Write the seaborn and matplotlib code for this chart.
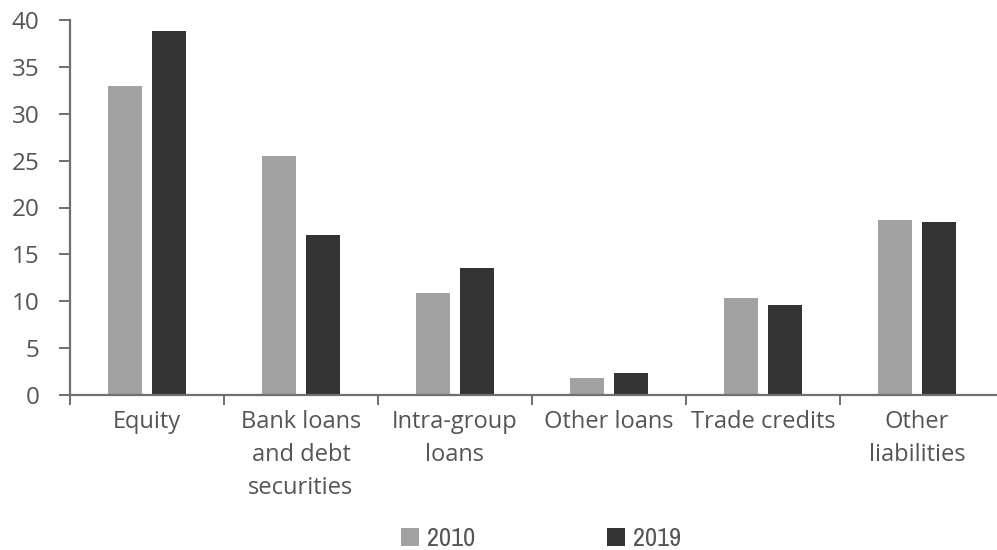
import matplotlib
matplotlib.use("Agg")
import matplotlib.pyplot as plt
from matplotlib.patches import Patch
from matplotlib.font_manager import FontProperties, fontManager
from matplotlib.ticker import FixedLocator
import pandas as pd
import seaborn as sns

categories = ["Equity", "Bank loans\nand debt\nsecurities", "Intra-group\nloans",
              "Other loans", "Trade credits", "Other\nliabilities"]
years = ["2010", "2019"]
values_2010 = [33.0, 25.5, 10.9, 1.8, 10.4, 18.7]
values_2019 = [38.8, 17.1, 13.5, 2.3, 9.6, 18.5]
y_ticks = [0, 5, 10, 15, 20, 25, 30, 35, 40]

colors = {"2010": "#a2a2a2", "2019": "#333333"}
text_color = "#555555"
axis_color = "#707070"

sns.set_theme(style="white")
plt.rcParams["font.family"] = ["Open Sans", "DejaVu Sans"]


def narrow_font(size):
    """Pick a condensed/narrow sans face if one is installed."""
    regular = [f for f in fontManager.ttflist
               if f.style == "normal" and f.weight in (400, "normal", "regular")]
    for f in regular:
        if "Narrow" in f.name:
            return FontProperties(fname=f.fname, size=size)
    for f in regular:
        if "condensed" in str(f.stretch).lower() or "Condensed" in f.fname:
            if "Bold" not in f.fname and "Oblique" not in f.fname:
                return FontProperties(fname=f.fname, size=size)
    return FontProperties(family="DejaVu Sans", size=size)


df = pd.DataFrame({
    "category": categories * 2,
    "year": [years[0]] * len(categories) + [years[1]] * len(categories),
    "value": values_2010 + values_2019,
})

fig = plt.figure(figsize=(9.97, 5.5), dpi=100)
ax = fig.add_axes([70 / 997, 1 - 395 / 550, 927 / 997, 375 / 550])

sns.barplot(data=df, x="category", y="value", hue="year", order=categories,
            hue_order=years, palette=colors, width=0.57, gap=0.23,
            saturation=1, legend=False, ax=ax, linewidth=0)

ax.set_xlim(-0.5, len(categories) - 0.48)
ax.set_ylim(0, 40)
ax.set_yticks(y_ticks)
ax.set_xlabel("")
ax.set_ylabel("")

for side in ("top", "right"):
    ax.spines[side].set_visible(False)
for side in ("left", "bottom"):
    ax.spines[side].set_color(axis_color)
    ax.spines[side].set_linewidth(1.6)

# category labels centred, boundary tick marks between groups
ax.tick_params(axis="x", which="major", length=0, pad=11, labelsize=17,
               labelcolor=text_color)
ax.xaxis.set_minor_locator(FixedLocator([i - 0.5 for i in range(len(categories))]))
ax.tick_params(axis="x", which="minor", bottom=True, direction="out", length=7,
               width=1.4, color=axis_color)
ax.tick_params(axis="y", which="major", left=True, direction="out", length=8,
               width=1.4, color=axis_color, pad=14, labelsize=17.5, labelcolor=text_color)
for lab in ax.get_xticklabels():
    lab.set_linespacing(1.5)
    lab.set_verticalalignment("top")

legend_font = narrow_font(19)
handles = [Patch(facecolor=colors[y], edgecolor="none", label=y) for y in years]
leg = fig.legend(handles=handles, loc="center", bbox_to_anchor=(0.543, 0.021),
                 ncol=2, frameon=False, prop=legend_font, handlelength=0.68,
                 handleheight=0.68, handletextpad=0.3, columnspacing=5.0,
                 borderpad=0, borderaxespad=0)
for t in leg.get_texts():
    t.set_color(text_color)

fig.savefig("out.png", dpi=100, facecolor="white")
